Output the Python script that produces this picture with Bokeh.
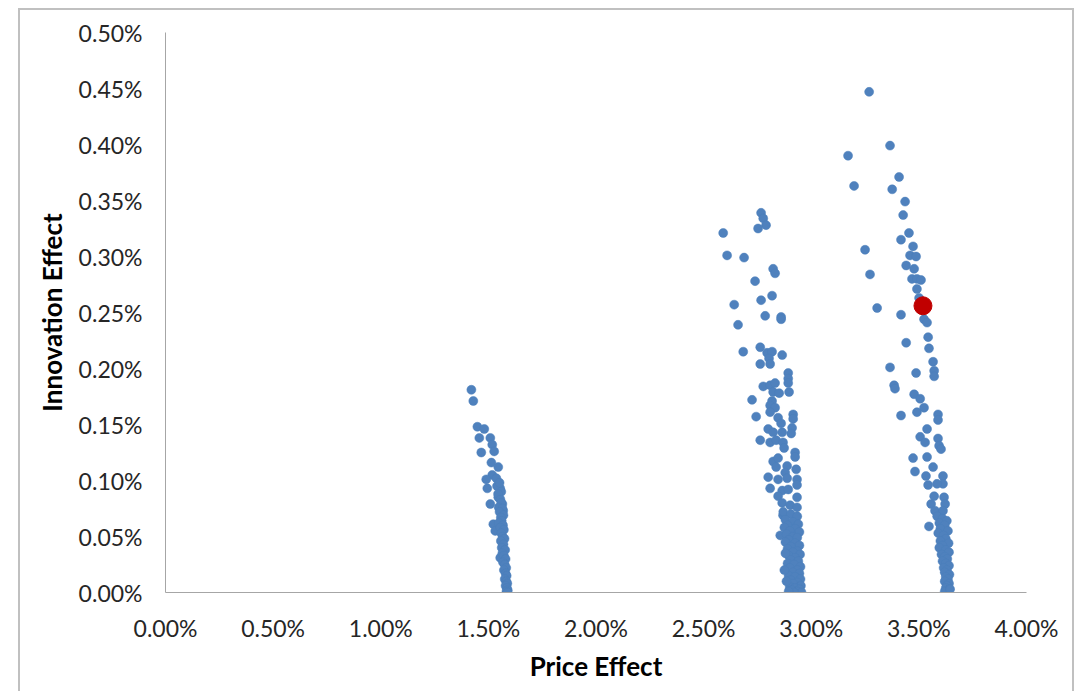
from bokeh.plotting import figure
from bokeh.models import Range1d, FixedTicker, PrintfTickFormatter, ColumnDataSource
from bokeh.embed import file_html
from bokeh.resources import INLINE

# ---- data (percent units) ----
c1_x = [1.421, 1.430, 1.449, 1.481, 1.458, 1.509, 1.518, 1.527, 1.467, 1.514, 1.546, 1.518,
        1.490, 1.537, 1.495, 1.555, 1.546, 1.509, 1.565, 1.569, 1.523, 1.532, 1.555,
        1.540, 1.552, 1.560, 1.545, 1.556, 1.560, 1.548, 1.565, 1.552, 1.570, 1.558, 1.562,
        1.548, 1.568, 1.555, 1.572, 1.560, 1.566, 1.575, 1.558, 1.570, 1.562, 1.578, 1.565,
        1.572, 1.580, 1.568, 1.576, 1.583, 1.572, 1.580, 1.585, 1.576, 1.583, 1.588, 1.580,
        1.586, 1.590, 1.584, 1.589]
c1_y = [0.181, 0.171, 0.148, 0.146, 0.138, 0.138, 0.132, 0.126, 0.125, 0.116, 0.112, 0.105,
        0.101, 0.102, 0.093, 0.093, 0.085, 0.079, 0.079, 0.073, 0.061, 0.055, 0.031,
        0.095, 0.098, 0.090, 0.088, 0.083, 0.080, 0.076, 0.075, 0.072, 0.069, 0.067, 0.064,
        0.062, 0.060, 0.058, 0.056, 0.053, 0.050, 0.048, 0.046, 0.043, 0.040, 0.038, 0.035,
        0.033, 0.030, 0.027, 0.025, 0.022, 0.020, 0.017, 0.015, 0.012, 0.010, 0.008, 0.006,
        0.004, 0.002, 0.001, 0.000]

c2_x = [2.767, 2.777, 2.790, 2.753, 2.591, 2.609, 2.688, 2.823, 2.832, 2.739, 2.818, 2.767,
        2.642, 2.786, 2.860, 2.860, 2.660, 2.684, 2.763, 2.795, 2.818, 2.865, 2.804, 2.763,
        2.809, 2.893, 2.893, 2.893, 2.777, 2.809, 2.832, 2.823, 2.851, 2.897, 2.725, 2.818,
        2.809, 2.832, 2.744, 2.809, 2.846, 2.916, 2.916, 2.860, 2.800, 2.823, 2.865, 2.911,
        2.907, 2.763, 2.809, 2.837, 2.869, 2.874, 2.925, 2.925, 2.823, 2.846, 2.837, 2.888,
        2.930, 2.879, 2.800, 2.846, 2.888, 2.934, 2.934, 2.809, 2.865, 2.893, 2.846, 2.934,
        2.865, 2.902, 2.934, 2.869, 2.925, 2.856,
        2.870, 2.905, 2.935, 2.880, 2.915, 2.940, 2.890, 2.875, 2.925, 2.900, 2.945, 2.885,
        2.915, 2.935, 2.895, 2.880, 2.925, 2.945, 2.905, 2.890, 2.935, 2.915, 2.948, 2.895,
        2.925, 2.905, 2.940, 2.890, 2.920, 2.950, 2.900, 2.935, 2.915, 2.945, 2.895, 2.925,
        2.950, 2.905, 2.935, 2.915, 2.952, 2.900, 2.925, 2.945, 2.910, 2.935, 2.955, 2.920,
        2.895, 2.880, 2.875, 2.885]
c2_y = [0.339, 0.334, 0.328, 0.325, 0.321, 0.301, 0.299, 0.289, 0.285, 0.278, 0.265, 0.261,
        0.257, 0.247, 0.246, 0.244, 0.239, 0.215, 0.219, 0.214, 0.215, 0.212, 0.209, 0.204,
        0.204, 0.196, 0.191, 0.187, 0.184, 0.185, 0.187, 0.179, 0.178, 0.179, 0.172, 0.171,
        0.167, 0.165, 0.157, 0.161, 0.156, 0.159, 0.155, 0.151, 0.146, 0.143, 0.143, 0.147,
        0.142, 0.136, 0.134, 0.136, 0.134, 0.129, 0.125, 0.121, 0.117, 0.120, 0.112, 0.113,
        0.110, 0.107, 0.103, 0.101, 0.102, 0.101, 0.096, 0.093, 0.091, 0.092, 0.086, 0.085,
        0.080, 0.078, 0.076, 0.069, 0.067, 0.051,
        0.072, 0.070, 0.068, 0.065, 0.063, 0.061, 0.060, 0.058, 0.057, 0.055, 0.054, 0.052,
        0.050, 0.049, 0.047, 0.045, 0.044, 0.042, 0.041, 0.039, 0.037, 0.036, 0.034, 0.033,
        0.031, 0.029, 0.028, 0.026, 0.025, 0.023, 0.022, 0.020, 0.018, 0.017, 0.015, 0.014,
        0.012, 0.011, 0.009, 0.008, 0.006, 0.005, 0.004, 0.003, 0.002, 0.001, 0.000, 0.000,
        0.001, 0.035, 0.020, 0.010]

c3_x = [3.269, 3.366, 3.171, 3.408, 3.199, 3.376, 3.436, 3.427, 3.454, 3.417, 3.473, 3.250,
        3.459, 3.487, 3.441, 3.478, 3.273, 3.468, 3.491, 3.510, 3.491, 3.501, 3.306, 3.417,
        3.524, 3.538, 3.543, 3.441, 3.547, 3.566, 3.366, 3.487, 3.571, 3.571, 3.385, 3.389,
        3.478, 3.506, 3.524, 3.417, 3.491, 3.589, 3.589, 3.538, 3.506, 3.529, 3.589, 3.594,
        3.603, 3.473, 3.538, 3.482, 3.566, 3.533, 3.612, 3.612, 3.543, 3.584, 3.571, 3.617,
        3.557, 3.622, 3.575, 3.612, 3.547,
        3.585, 3.610, 3.630, 3.595, 3.620, 3.600, 3.635, 3.590, 3.615, 3.625, 3.600, 3.638,
        3.610, 3.595, 3.625, 3.640, 3.605, 3.620, 3.632, 3.610, 3.625, 3.640, 3.615, 3.630,
        3.620, 3.642, 3.625, 3.635, 3.620, 3.640, 3.630, 3.625, 3.638, 3.628, 3.620, 3.645]
c3_y = [0.447, 0.399, 0.390, 0.371, 0.363, 0.360, 0.349, 0.337, 0.321, 0.315, 0.309, 0.306,
        0.301, 0.300, 0.292, 0.289, 0.284, 0.280, 0.280, 0.279, 0.271, 0.263, 0.254, 0.248,
        0.244, 0.241, 0.228, 0.223, 0.218, 0.206, 0.201, 0.196, 0.198, 0.193, 0.185, 0.182,
        0.177, 0.173, 0.165, 0.158, 0.161, 0.159, 0.154, 0.146, 0.139, 0.134, 0.1375, 0.131,
        0.128, 0.120, 0.121, 0.108, 0.112, 0.104, 0.104, 0.097, 0.096, 0.097, 0.086, 0.085,
        0.079, 0.079, 0.073, 0.073, 0.059,
        0.068, 0.066, 0.064, 0.062, 0.060, 0.057, 0.055, 0.053, 0.051, 0.048, 0.046, 0.044,
        0.042, 0.040, 0.038, 0.036, 0.034, 0.032, 0.030, 0.028, 0.026, 0.024, 0.022, 0.020,
        0.018, 0.016, 0.014, 0.012, 0.010, 0.008, 0.006, 0.004, 0.002, 0.000, 0.001, 0.003]

highlight_x = [3.519]
highlight_y = [0.256]

x_ticks = [0.0, 0.5, 1.0, 1.5, 2.0, 2.5, 3.0, 3.5, 4.0]
y_ticks = [0.0, 0.05, 0.10, 0.15, 0.20, 0.25, 0.30, 0.35, 0.40, 0.45, 0.50]

FONT = "Lato"
TEXT = "#262626"
AXIS = "#a6a6a6"
BORDER = "#c0c0c0"

p = figure(width=1079, height=691, output_backend="svg", toolbar_location=None,
           x_range=Range1d(0, 4), y_range=Range1d(0, 0.5),
           min_border_left=165, min_border_right=53, min_border_top=32, min_border_bottom=99)
p.outline_line_color = None
p.grid.grid_line_color = None
p.background_fill_color = "white"
p.border_fill_color = None

g = f"linear-gradient({BORDER},{BORDER})"
p.styles = {
    "background-color": "white",
    "background-image": f"{g}, {g}, {g}",
    "background-position": "18px 8px, 18px 8px, 1072px 8px",
    "background-size": "1056px 2px, 2px 700px, 2px 700px",
    "background-repeat": "no-repeat",
}

for ax, ticks in ((p.xaxis[0], x_ticks), (p.yaxis[0], y_ticks)):
    ax.ticker = FixedTicker(ticks=ticks)
    ax.formatter = PrintfTickFormatter(format="%.2f%%")
    ax.major_tick_line_color = None
    ax.minor_tick_line_color = None
    ax.major_tick_in = 0
    ax.major_tick_out = 0
    ax.axis_line_color = AXIS
    ax.axis_line_width = 1
    ax.major_label_text_font = FONT
    ax.major_label_text_font_size = "23px"
    ax.major_label_text_color = TEXT
    ax.axis_label_text_font = FONT
    ax.axis_label_text_font_size = "26px"
    ax.axis_label_text_font_style = "bold"
    ax.axis_label_text_color = "#000000"

p.xaxis.axis_label = "Price Effect"
p.yaxis.axis_label = "Innovation Effect"
p.xaxis.major_label_standoff = 21
p.yaxis.major_label_standoff = 23
p.xaxis.axis_label_standoff = 5
p.yaxis.axis_label_standoff = 8

for xs, ys in ((c1_x, c1_y), (c2_x, c2_y), (c3_x, c3_y)):
    src = ColumnDataSource(data=dict(x=xs, y=ys))
    p.scatter("x", "y", source=src, size=9, fill_color="#4f81bd", line_color="#4a7ebb",
              line_width=0.5)

p.scatter(highlight_x, highlight_y, size=18, fill_color="#c00000", line_color="#c00000")

open("out.html", "w").write(file_html(p, INLINE))
